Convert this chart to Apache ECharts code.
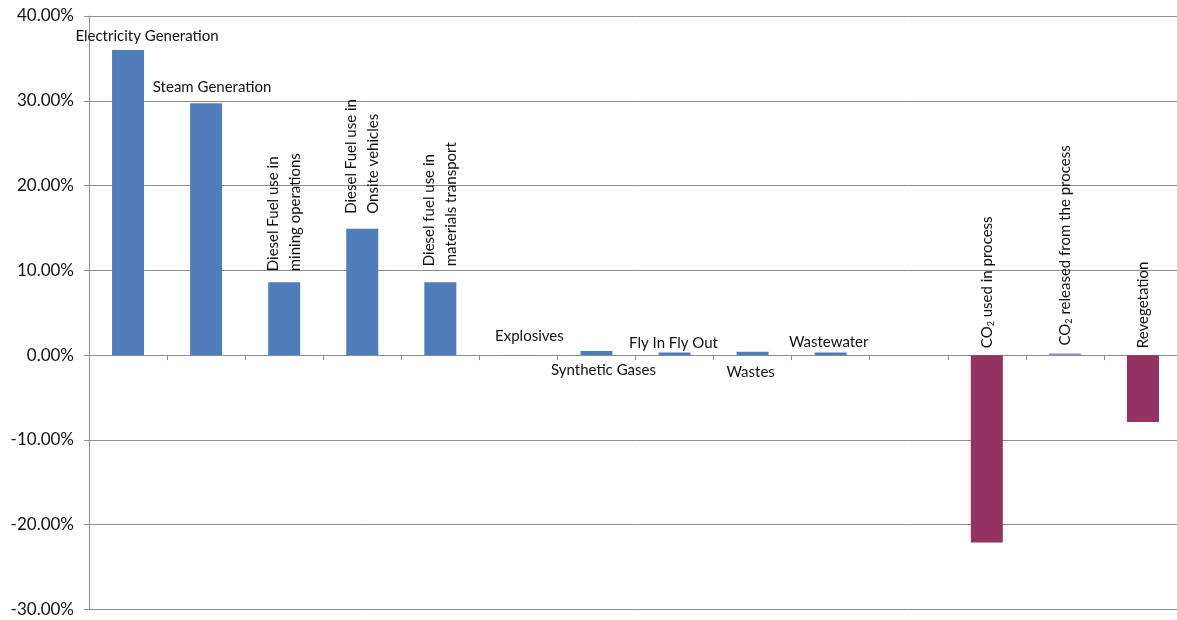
<!DOCTYPE html>
<html>
<head>
<meta charset="utf-8">
<script src="https://cdn.jsdelivr.net/npm/echarts@6/dist/echarts.min.js"></script>
<style>
  html, body { margin: 0; padding: 0; background: #fff; overflow: hidden; }
  #chart { width: 1183px; height: 620px; }
</style>
</head>
<body>
<div id="chart"></div>
<script>
const categories = [
  "Electricity Generation", "Steam Generation",
  "Diesel Fuel use in mining operations", "Diesel Fuel use in Onsite vehicles",
  "Diesel fuel use in materials transport", "Explosives", "Synthetic Gases",
  "Fly In Fly Out", "Wastes", "Wastewater", "",
  "CO2 used in process", "CO2 released from the process", "Revegetation"
];
// share of total, in %
const shares = [36.0, 29.7, 8.6, 14.9, 8.6, 0.02, 0.5, 0.3, 0.4, 0.3, null, -22.1, 0.2, -7.9];
const labelTexts = [
  "Electricity Generation", "Steam Generation",
  "Diesel Fuel use in\nmining operations", "Diesel Fuel use in\nOnsite vehicles",
  "Diesel fuel use in\nmaterials transport", "Explosives", "Synthetic Gases",
  "Fly In Fly Out", "Wastes", "Wastewater", "",
  "{t|CO}{s|2}{t| used in process}", "{t|CO}{s|2}{t| released from the process}", "Revegetation"
];
const yTicks = { min: -30, max: 40, step: 10 };

const BLUE = "#4f7dba", PLUM = "#943262", LAVENDER = "#928fd4";
const FONT = "Lato";

// where each label sits relative to its bar
const labelPlace = [
  { position: "top", distance: 5, offset: [19, 0] },
  { position: "top", distance: 7, offset: [6, 0] },
  { position: "top", distance: 6, rotate: 90, offset: [5, 0] },
  { position: "top", distance: 14, rotate: 90, offset: [1, 0] },
  { position: "top", distance: 8, rotate: 90, offset: [8, 0] },
  { position: "top", distance: 10, offset: [11, 0] },
  { position: "bottom", distance: 6, offset: [7, 0] },
  { position: "top", distance: 0, offset: [-1, 0] },
  { position: "bottom", distance: 8, offset: [-2, 0] },
  { position: "top", distance: 1, offset: [-2, 0] },
  null,
  { position: "top", distance: 7, rotate: 90, offset: [0, 0] },
  { position: "top", distance: 6, rotate: 90, offset: [2, 0] },
  { position: "top", distance: 7, rotate: 90, offset: [0, 0] }
];

const richStyle = {
  t: { fontFamily: FONT, fontSize: 15, color: "#111", lineHeight: 18 },
  s: { fontFamily: FONT, fontSize: 9, color: "#111", lineHeight: 9, verticalAlign: "bottom" }
};

const data = shares.map((v, i) => {
  const p = labelPlace[i];
  const item = { value: v, name: categories[i] };
  if (!p) { item.label = { show: false }; return item; }
  const lab = {
    show: true,
    position: p.position,
    distance: p.distance,
    offset: p.offset,
    formatter: labelTexts[i],
    lineHeight: p.rotate ? 22 : 18
  };
  if (p.rotate) {
    lab.rotate = p.rotate;
    lab.align = "left";
    lab.verticalAlign = "middle";
  }
  item.label = lab;
  return item;
});

const chart = echarts.init(document.getElementById("chart"), null, { renderer: "canvas" });
chart.setOption({
  animation: false,
  backgroundColor: "#fff",
  grid: { left: 89, top: 16, width: 1093, bottom: 10.5, containLabel: false },
  xAxis: {
    type: "category",
    data: categories,
    axisLine: { onZero: true, lineStyle: { color: "#8c8c8c", width: 1 } },
    axisTick: { show: true, length: 5, interval: 0, lineStyle: { color: "#8c8c8c" } },
    axisLabel: { show: false },
    splitLine: { show: false }
  },
  yAxis: {
    type: "value",
    min: yTicks.min,
    max: yTicks.max,
    interval: yTicks.step,
    axisLine: { show: true, lineStyle: { color: "#8c8c8c" } },
    axisTick: { show: true, length: 5, lineStyle: { color: "#8c8c8c" } },
    axisLabel: {
      margin: 15,
      fontFamily: FONT,
      fontSize: 17,
      color: "#111",
      formatter: v => v.toFixed(2) + "%"
    },
    splitLine: { show: true, lineStyle: { color: "#8c8c8c", width: 1 } }
  },
  series: [{
    type: "bar",
    data: data,
    barWidth: 32,
    itemStyle: {
      color: p => p.value < 0 ? PLUM : (p.name.indexOf("released") >= 0 ? LAVENDER : BLUE)
    },
    label: {
      fontFamily: FONT,
      fontSize: 15,
      color: "#111",
      rich: richStyle
    }
  }]
});
</script>
</body>
</html>
